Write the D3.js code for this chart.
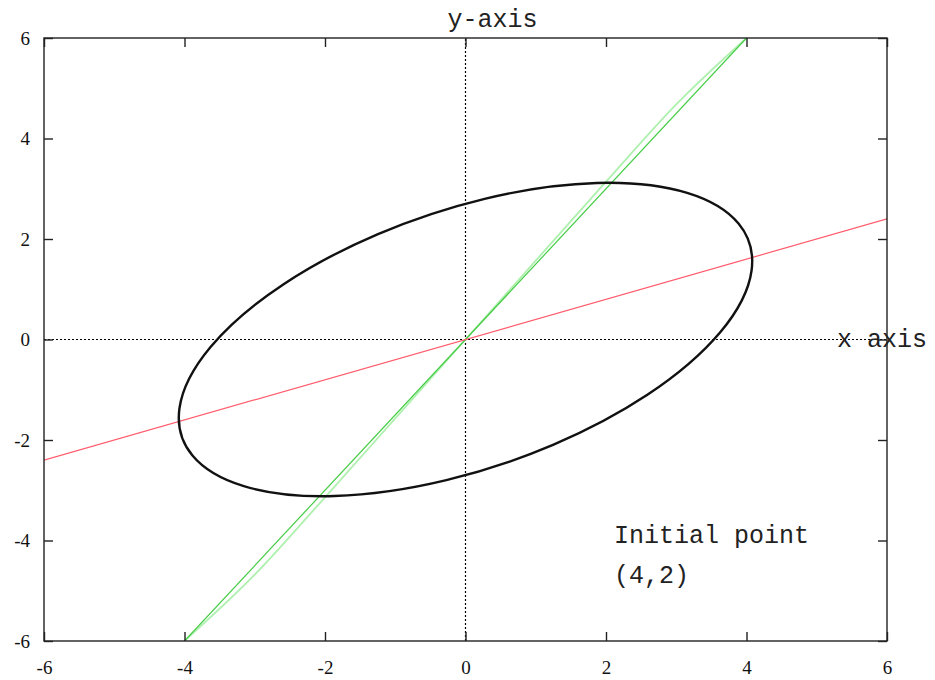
<!DOCTYPE html>
<html>
<head>
<meta charset="utf-8">
<script src="https://cdn.jsdelivr.net/npm/d3@7"></script>
<style>
  html, body { margin: 0; padding: 0; background: #fff; }
  svg { display: block; }
</style>
</head>
<body>
<svg id="chart" width="935" height="680"></svg>
<script>
// Axis domains and tick values
const xDomain = [-6, 6];
const yDomain = [-6, 6];
const xTicks = [-6, -4, -2, 0, 2, 4, 6];
const yTicks = [-6, -4, -2, 0, 2, 4, 6];

// Ellipse: centre, semi-axes (data units) and tilt of the major axis (degrees)
const ellipseCenter = [0, 0];
const ellipseAxes = [4.52, 2.44];
const ellipseTilt = [30.7];

// Red line (through origin)
const redX = [-6, 6];
const redY = [-2.4, 2.4];

// Green line (through origin)
const greenX = [-4, 4];
const greenY = [-6, 6];

// Faint green companion curve
const paleX = [-4, -3, -2, -1, 0, 1, 2, 3, 4];
const paleY = [-6, -4.68, -3.14, -1.57, 0, 1.57, 3.14, 4.68, 6];

// Text labels
const yAxisLabel = "y-axis";
const xAxisLabel = "x axis";
const noteLines = ["Initial point", "(4,2)"];

const svg = d3.select("#chart");
const margin = { left: 44, right: 48, top: 38, bottom: 39 };
const W = 935, H = 680;

const x = d3.scaleLinear().domain(xDomain).range([margin.left, W - margin.right]);
const y = d3.scaleLinear().domain(yDomain).range([H - margin.bottom, margin.top]);

const zip = (xs, ys) => xs.map((v, i) => [v, ys[i]]);
const line = d3.line().x(d => x(d[0])).y(d => y(d[1]));

// Clip region for plotted curves
svg.append("clipPath").attr("id", "plot-clip")
  .append("rect")
  .attr("x", x(xDomain[0])).attr("y", y(yDomain[1]))
  .attr("width", x(xDomain[1]) - x(xDomain[0]))
  .attr("height", y(yDomain[0]) - y(yDomain[1]));

// Dotted zero axes
svg.append("line")
  .attr("x1", x(0)).attr("x2", x(0))
  .attr("y1", y(yDomain[0])).attr("y2", y(yDomain[1]))
  .attr("stroke", "#000").attr("stroke-width", 1.2)
  .attr("stroke-dasharray", "2,2");
svg.append("line")
  .attr("x1", x(xDomain[0])).attr("x2", x(xDomain[1]))
  .attr("y1", y(0)).attr("y2", y(0))
  .attr("stroke", "#000").attr("stroke-width", 1.2)
  .attr("stroke-dasharray", "2,2");

const plot = svg.append("g").attr("clip-path", "url(#plot-clip)");

plot.append("path")
  .attr("d", d3.line().x(d => x(d[0])).y(d => y(d[1])).curve(d3.curveMonotoneX)(zip(paleX, paleY)))
  .attr("fill", "none")
  .attr("stroke", "#aef0ae")
  .attr("stroke-width", 1.8);

plot.append("path")
  .attr("d", line(zip(greenX, greenY)))
  .attr("fill", "none")
  .attr("stroke", "#44cc44")
  .attr("stroke-width", 1.2);

plot.append("path")
  .attr("d", line(zip(redX, redY)))
  .attr("fill", "none")
  .attr("stroke", "#ff5c6c")
  .attr("stroke-width", 1.2);

// Ellipse drawn in data units, mapped to pixels through the scales
const kx = x(1) - x(0);
const ky = y(0) - y(1);
plot.append("ellipse")
  .attr("cx", 0).attr("cy", 0)
  .attr("rx", ellipseAxes[0]).attr("ry", ellipseAxes[1])
  .attr("transform",
    `translate(${x(ellipseCenter[0])},${y(ellipseCenter[1])}) scale(${kx},${-ky}) rotate(${ellipseTilt[0]})`)
  .attr("vector-effect", "non-scaling-stroke")
  .attr("fill", "none")
  .attr("stroke", "#111")
  .attr("stroke-width", 2.4);

// Frame with inward ticks on all four sides
const tickLen = 9;
svg.append("rect")
  .attr("x", x(xDomain[0])).attr("y", y(yDomain[1]))
  .attr("width", x(xDomain[1]) - x(xDomain[0]))
  .attr("height", y(yDomain[0]) - y(yDomain[1]))
  .attr("fill", "none").attr("stroke", "#222").attr("stroke-width", 1.4);

const fmt = d => String(d);
const axisBottom = d3.axisBottom(x).tickValues(xTicks).tickSize(-tickLen).tickPadding(20).tickFormat(fmt);
const axisTop = d3.axisTop(x).tickValues(xTicks).tickSize(-tickLen).tickFormat("");
const axisLeft = d3.axisLeft(y).tickValues(yTicks).tickSize(-tickLen).tickPadding(14).tickFormat(fmt);
const axisRight = d3.axisRight(y).tickValues(yTicks).tickSize(-tickLen).tickFormat("");

function styleAxis(g) {
  g.select(".domain").remove();
  g.selectAll(".tick line").attr("stroke", "#222").attr("stroke-width", 1.4);
  g.selectAll(".tick text")
    .attr("fill", "#111")
    .style("font-family", "'Liberation Serif', 'DejaVu Serif', serif")
    .style("font-size", "19px");
}

svg.append("g").attr("transform", `translate(0,${y(yDomain[0])})`).call(axisBottom).call(styleAxis);
svg.append("g").attr("transform", `translate(0,${y(yDomain[1])})`).call(axisTop).call(styleAxis);
svg.append("g").attr("transform", `translate(${x(xDomain[0])},0)`).call(axisLeft).call(styleAxis);
svg.append("g").attr("transform", `translate(${x(xDomain[1])},0)`).call(axisRight).call(styleAxis);

// Text labels in a monospace face
const mono = "'Liberation Mono', 'DejaVu Sans Mono', monospace";
svg.append("text")
  .attr("x", x(0) + 27).attr("y", 27)
  .attr("text-anchor", "middle")
  .style("font-family", mono).style("font-size", "25px").attr("fill", "#222")
  .text(yAxisLabel);

svg.append("text")
  .attr("x", 837).attr("y", y(0) + 7)
  .style("font-family", mono).style("font-size", "25px").attr("fill", "#222")
  .text(xAxisLabel);

svg.selectAll("text.note")
  .data(noteLines)
  .join("text")
  .attr("class", "note")
  .attr("x", 614)
  .attr("y", (d, i) => 543 + i * 40)
  .style("font-family", mono).style("font-size", "25px").attr("fill", "#222")
  .text(d => d);
</script>
</body>
</html>
